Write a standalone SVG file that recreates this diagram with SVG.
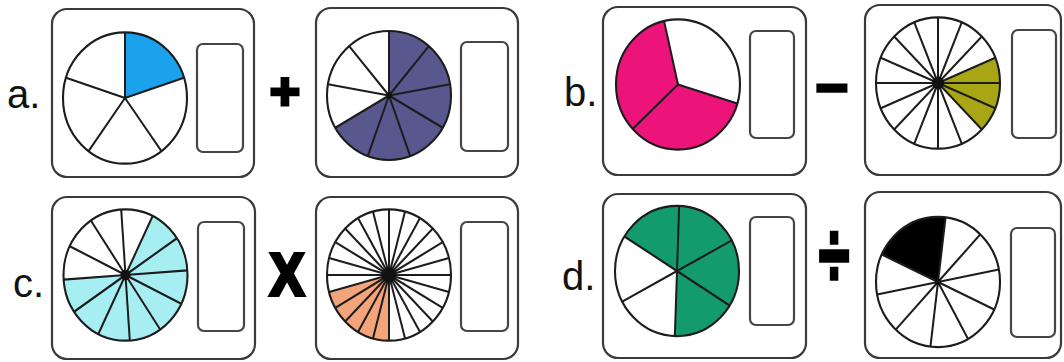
<svg xmlns="http://www.w3.org/2000/svg" xmlns:xlink="http://www.w3.org/1999/xlink" width="1064" height="362" viewBox="0 0 1064 362">
<style>
.panel{fill:#fff;stroke:#3a3a3a;stroke-width:2.2}
.box{fill:#fff;stroke:#454545;stroke-width:2.2}
.rim{fill:none;stroke:#1c1c1c;stroke-width:2.1}
.spoke{stroke:#1c1c1c;stroke-width:2}
.hub{fill:#111}
.label{font-family:"Liberation Sans",Arial,sans-serif;font-size:40px;fill:#111}
.op{font-family:"Liberation Sans",Arial,sans-serif;font-weight:bold;fill:#000;stroke:#000;text-anchor:middle}
</style>
<defs>
<line id="sp" class="spoke" x1="0" y1="0" x2="0" y2="-62"/>
</defs>
<rect width="1064" height="362" fill="#fff"/>

<g id="label-a"><text class="label" x="7" y="108">a.</text></g>
<g id="label-b"><text class="label" x="564" y="106">b.</text></g>
<g id="label-c"><text class="label" x="13" y="297">c.</text></g>
<g id="label-d"><text class="label" x="562" y="290">d.</text></g>

<g id="op-plus"><text class="op" x="285" y="109" font-size="52" stroke-width="3">+</text></g>
<g id="op-minus"><text class="op" x="832" y="107" font-size="56" stroke-width="3">−</text></g>
<g id="op-times"><text class="op" transform="translate(287,295) scale(0.85,1)" x="0" y="0" font-size="60" stroke-width="4">X</text></g>
<g id="op-div"><text class="op" transform="translate(834,287) scale(1,1.65)" x="0" y="0" font-size="56" stroke-width="2">÷</text></g>

<!-- a1: 1/5 -->
<g id="panel-a1">
<rect class="panel" x="52" y="9" width="202" height="168" rx="15"/>
<g transform="translate(125,98) scale(1,1.06)">
<path d="M0,0 L0,-62 A62,62 0 0 1 58.97,-19.16 Z" fill="#1aa3ec"/>
<use xlink:href="#sp"/><use xlink:href="#sp" transform="rotate(72)"/><use xlink:href="#sp" transform="rotate(144)"/><use xlink:href="#sp" transform="rotate(216)"/><use xlink:href="#sp" transform="rotate(288)"/>
<circle class="rim" r="62"/>
</g>
<rect class="box" x="197" y="44" width="46" height="108" rx="6"/>
</g>

<!-- a2: 6/9 -->
<g id="panel-a2">
<rect class="panel" x="316" y="8" width="202" height="169" rx="15"/>
<g transform="translate(389,95.5) scale(1,1.04)">
<path d="M0,0 L0,-62 A62,62 0 1 1 -53.69,31 Z" fill="#58588e"/>
<use xlink:href="#sp"/><use xlink:href="#sp" transform="rotate(40)"/><use xlink:href="#sp" transform="rotate(80)"/><use xlink:href="#sp" transform="rotate(120)"/><use xlink:href="#sp" transform="rotate(160)"/><use xlink:href="#sp" transform="rotate(200)"/><use xlink:href="#sp" transform="rotate(240)"/><use xlink:href="#sp" transform="rotate(280)"/><use xlink:href="#sp" transform="rotate(320)"/>
<circle class="rim" r="62"/>
<circle class="hub" r="3"/>
</g>
<rect class="box" x="461" y="42" width="47" height="109" rx="6"/>
</g>

<!-- b1: 2/3 -->
<g id="panel-b1">
<rect class="panel" x="603" y="7" width="203" height="168" rx="15"/>
<g transform="translate(678,84.5) scale(1,1.05)">
<path d="M0,0 L59.29,18.13 A62,62 0 1 1 -13.95,-60.41 Z" fill="#ec137a"/>
<use xlink:href="#sp" transform="rotate(107)"/><use xlink:href="#sp" transform="rotate(227)"/><use xlink:href="#sp" transform="rotate(347)"/>
<circle class="rim" r="62"/>
</g>
<rect class="box" x="750" y="31" width="44" height="107" rx="6"/>
</g>

<!-- b2: 3/16 -->
<g id="panel-b2">
<rect class="panel" x="865" y="5" width="196" height="170" rx="15"/>
<g transform="translate(938,83) scale(1,1.06)">
<path d="M0,0 L57.28,-23.73 A62,62 0 0 1 43.84,43.84 Z" fill="#a9a615"/>
<use xlink:href="#sp"/><use xlink:href="#sp" transform="rotate(22.5)"/><use xlink:href="#sp" transform="rotate(45)"/><use xlink:href="#sp" transform="rotate(67.5)"/><use xlink:href="#sp" transform="rotate(90)"/><use xlink:href="#sp" transform="rotate(112.5)"/><use xlink:href="#sp" transform="rotate(135)"/><use xlink:href="#sp" transform="rotate(157.5)"/><use xlink:href="#sp" transform="rotate(180)"/><use xlink:href="#sp" transform="rotate(202.5)"/><use xlink:href="#sp" transform="rotate(225)"/><use xlink:href="#sp" transform="rotate(247.5)"/><use xlink:href="#sp" transform="rotate(270)"/><use xlink:href="#sp" transform="rotate(292.5)"/><use xlink:href="#sp" transform="rotate(315)"/><use xlink:href="#sp" transform="rotate(337.5)"/>
<circle class="rim" r="62"/>
<circle class="hub" r="6"/>
</g>
<rect class="box" x="1012" y="30" width="44" height="108" rx="6"/>
</g>

<!-- c1: 8/12 -->
<g id="panel-c1">
<rect class="panel" x="52" y="197" width="203" height="162" rx="15"/>
<g transform="translate(125.5,275) scale(1,1.06)">
<path d="M0,0 L27.18,-55.73 A62,62 0 1 1 -61.85,4.32 Z" fill="#a6eef2"/>
<use xlink:href="#sp" transform="rotate(-4)"/><use xlink:href="#sp" transform="rotate(26)"/><use xlink:href="#sp" transform="rotate(56)"/><use xlink:href="#sp" transform="rotate(86)"/><use xlink:href="#sp" transform="rotate(116)"/><use xlink:href="#sp" transform="rotate(146)"/><use xlink:href="#sp" transform="rotate(176)"/><use xlink:href="#sp" transform="rotate(206)"/><use xlink:href="#sp" transform="rotate(236)"/><use xlink:href="#sp" transform="rotate(266)"/><use xlink:href="#sp" transform="rotate(296)"/><use xlink:href="#sp" transform="rotate(326)"/>
<circle class="rim" r="62"/>
<circle class="hub" r="5"/>
</g>
<rect class="box" x="198" y="222" width="46" height="109" rx="6"/>
</g>

<!-- c2: 5/24 -->
<g id="panel-c2">
<rect class="panel" x="316" y="197" width="202" height="162" rx="15"/>
<g transform="translate(389,275) scale(1,1.06)">
<path d="M0,0 L0,62 A62,62 0 0 1 -59.89,16.05 Z" fill="#f4a47a"/>
<use xlink:href="#sp"/><use xlink:href="#sp" transform="rotate(15)"/><use xlink:href="#sp" transform="rotate(30)"/><use xlink:href="#sp" transform="rotate(45)"/><use xlink:href="#sp" transform="rotate(60)"/><use xlink:href="#sp" transform="rotate(75)"/><use xlink:href="#sp" transform="rotate(90)"/><use xlink:href="#sp" transform="rotate(105)"/><use xlink:href="#sp" transform="rotate(120)"/><use xlink:href="#sp" transform="rotate(135)"/><use xlink:href="#sp" transform="rotate(150)"/><use xlink:href="#sp" transform="rotate(165)"/><use xlink:href="#sp" transform="rotate(180)"/><use xlink:href="#sp" transform="rotate(195)"/><use xlink:href="#sp" transform="rotate(210)"/><use xlink:href="#sp" transform="rotate(225)"/><use xlink:href="#sp" transform="rotate(240)"/><use xlink:href="#sp" transform="rotate(255)"/><use xlink:href="#sp" transform="rotate(270)"/><use xlink:href="#sp" transform="rotate(285)"/><use xlink:href="#sp" transform="rotate(300)"/><use xlink:href="#sp" transform="rotate(315)"/><use xlink:href="#sp" transform="rotate(330)"/><use xlink:href="#sp" transform="rotate(345)"/>
<circle class="rim" r="62"/>
<circle class="hub" r="7"/>
</g>
<rect class="box" x="461" y="222" width="47" height="109" rx="6"/>
</g>

<!-- d1: 4/6 -->
<g id="panel-d1">
<rect class="panel" x="603" y="194" width="203" height="164" rx="15"/>
<g transform="translate(677,271) scale(1,1.05)">
<path d="M0,0 L-52.58,-32.85 A62,62 0 1 1 -2.16,61.96 Z" fill="#139b6e"/>
<use xlink:href="#sp" transform="rotate(2)"/><use xlink:href="#sp" transform="rotate(62)"/><use xlink:href="#sp" transform="rotate(122)"/><use xlink:href="#sp" transform="rotate(182)"/><use xlink:href="#sp" transform="rotate(242)"/><use xlink:href="#sp" transform="rotate(302)"/>
<circle class="rim" r="62"/>
</g>
<rect class="box" x="750" y="217" width="44" height="108" rx="6"/>
</g>

<!-- d2: 2/10 -->
<g id="panel-d2">
<rect class="panel" x="865" y="192" width="196" height="166" rx="15"/>
<g transform="translate(938,282) scale(1,1.05)">
<path d="M0,0 L-56.19,-26.2 A62,62 0 0 1 7.56,-61.54 Z" fill="#000"/>
<use xlink:href="#sp" transform="rotate(7)"/><use xlink:href="#sp" transform="rotate(43)"/><use xlink:href="#sp" transform="rotate(79)"/><use xlink:href="#sp" transform="rotate(115)"/><use xlink:href="#sp" transform="rotate(151)"/><use xlink:href="#sp" transform="rotate(187)"/><use xlink:href="#sp" transform="rotate(223)"/><use xlink:href="#sp" transform="rotate(259)"/><use xlink:href="#sp" transform="rotate(295)"/>
<circle class="rim" r="62"/>
<circle class="hub" r="3"/>
</g>
<rect class="box" x="1011" y="228" width="44" height="109" rx="6"/>
</g>

<g id="connectors"/>
</svg>
